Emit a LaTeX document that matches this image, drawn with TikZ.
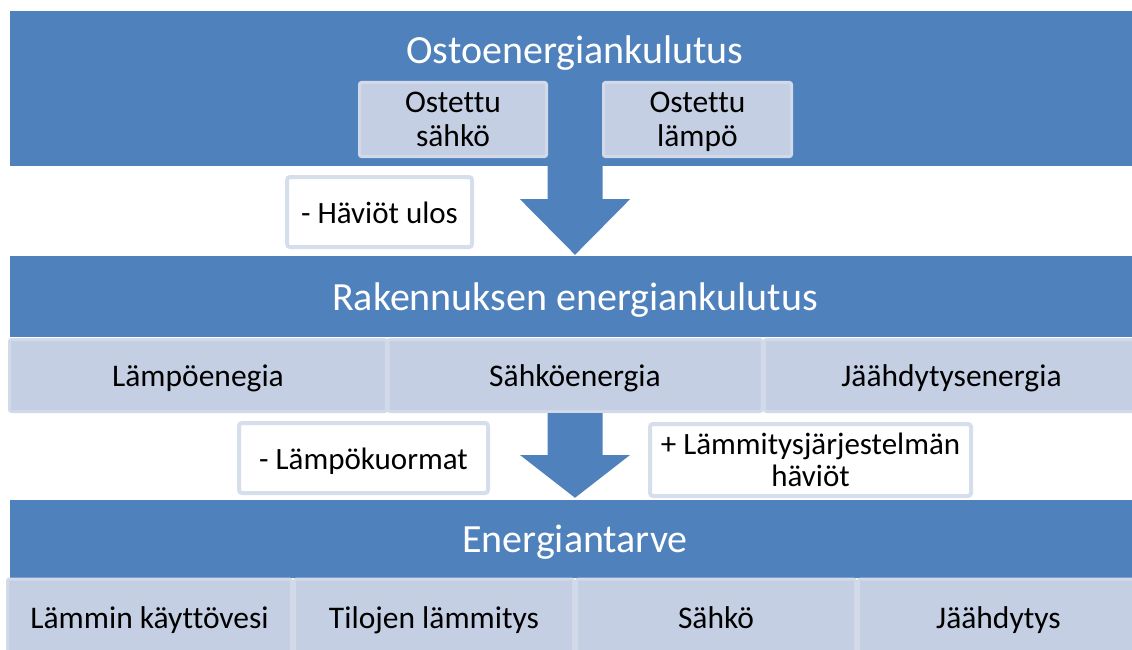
\documentclass[tikz,border=0pt]{standalone}
\usepackage{fontspec}
\setmainfont{Carlito}[Ligatures=NoCommon]
\usetikzlibrary{calc,positioning}

\definecolor{bandblue}{HTML}{4F81BD}
\definecolor{cellfill}{HTML}{C4CFE3}
\definecolor{celledge}{HTML}{D2DAEA}
\definecolor{noteedge}{HTML}{D6DEEC}

\begin{document}
\begin{tikzpicture}[
        x=1pt, y=-1pt,
        band/.style = {
            fill=bandblue,
            minimum width=1130,
            inner sep=0pt,
            text height=36, text depth=9,
            text=white,
            font=\fontsize{40}{44}\selectfont},
        cell/.style = {
            draw=celledge,
            line width=3pt,
            fill=cellfill,
            rounded corners=2pt,
            inner sep=0pt,
            align=center,
            font=\fontsize{31.5}{34}\selectfont},
        note/.style = {
            draw=noteedge,
            line width=4pt,
            fill=white,
            rounded corners=3pt,
            inner sep=0pt,
            minimum height=70,
            align=center,
            font=\fontsize{31}{32}\selectfont},
        oneline/.style = {text height=32, text depth=10},
        flow/.style = {fill=bandblue}
    ]
    \useasboundingbox (0,0) rectangle (1132,650);

    % purchased energy
    \node[band, minimum height=155] (purchase) at (575,88.5) {};
    \node[band, fill=none] (purchaseTitle) at (575,50) {Ostoenergiankulutus};
    \node[cell, minimum width=187, minimum height=74] (buyElec) at (453,119.5) {\rule{0pt}{29.8pt}Ostettu\\sähkö\strut};
    \node[cell, minimum width=188, minimum height=74] (buyHeat) at (697.5,119.5) {\rule{0pt}{29.8pt}Ostettu\\lämpö\strut};
    \node[note, oneline, minimum width=185] (lossOut) at (379.5,212) {- Häviöt ulos};

    % building consumption
    \node[band, minimum height=81] (building) at (575,296.5) {Rakennuksen energiankulutus};
    \node[cell, oneline, minimum width=377, minimum height=72] (heatEnergy) at (198,375.5) {Lämpöenegia};
    \node[cell, oneline, minimum width=374, minimum height=72] (elecEnergy) at (575,375.5) {Sähköenergia};
    \node[cell, oneline, minimum width=374, minimum height=72] (coolEnergy) at (951.5,375.5) {Jäähdytysenergia};
    \node[note, oneline, minimum width=249] (heatLoads) at (363.5,458) {- Lämpökuormat};
    \node[note, minimum width=321] (systemLoss) at (810.5,460) {\rule{0pt}{30.4pt}+ Lämmitysjärjestelmän\\häviöt\strut};

    % energy demand
    \node[band, minimum height=78] (demand) at (575,539) {Energiantarve};
    \node[cell, oneline, minimum width=284, minimum height=76] (hotWater) at (149.5,617) {Lämmin käyttövesi};
    \node[cell, oneline, minimum width=279, minimum height=76] (spaceHeat) at (434,617) {Tilojen lämmitys};
    \node[cell, oneline, minimum width=279, minimum height=76] (electricity) at (716,617) {Sähkö};
    \node[cell, oneline, minimum width=280, minimum height=76] (cooling) at (998.5,617) {Jäähdytys};

    % arrows
    \fill[flow] ($(purchase.south)+(-27.5,-1)$) -- ++(0,34) -- ++(-27.5,0)
        -- ($(building.north)+(0,-1)$) -- ($(purchase.south)+(55,33)$)
        -- ++(-27.5,0) -- ($(purchase.south)+(27.5,-1)$) -- cycle;
    \fill[flow] ($(building.south |- elecEnergy.south)+(-27.5,0)$) -- ++(0,42) -- ++(-27.5,0)
        -- ($(demand.north)+(0,-2)$) -- ($(building.south |- elecEnergy.south)+(55,42)$)
        -- ++(-27.5,0) -- ($(building.south |- elecEnergy.south)+(27.5,0)$) -- cycle;
\end{tikzpicture}
\end{document}
